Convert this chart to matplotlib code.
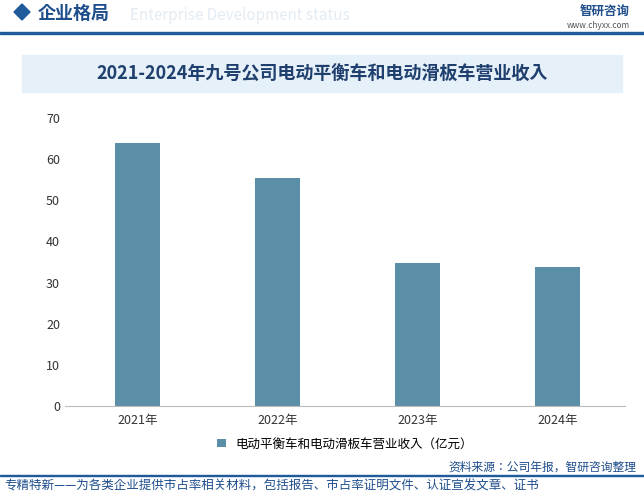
import matplotlib.pyplot as plt
from matplotlib.patches import Rectangle, Polygon

plt.rcParams["font.family"] = ["Noto Sans CJK SC", "Noto Sans CJK JP", "DejaVu Sans"]

years = ["2021年", "2022年", "2023年", "2024年"]
revenue = [64.0, 55.5, 34.8, 33.8]
yticks = [0, 10, 20, 30, 40, 50, 60, 70]

W, H = 644, 495
fig = plt.figure(figsize=(6.44, 4.95), dpi=100)

def fx(px):
    return px / W

def fy(py):
    return 1 - py / H

# header
fig.add_artist(Polygon([[fx(14), fy(12)], [fx(22), fy(4)], [fx(30), fy(12)], [fx(22), fy(20)]],
                       closed=True, color="#1f5a9a", transform=fig.transFigure))
fig.text(fx(38), fy(13), "企业格局", fontsize=13, fontweight="bold", color="#1f4e8c", va="center")
fig.text(fx(130), fy(15), "Enterprise Development status", fontsize=11, color="#e3ebf3", va="center")
fig.text(fx(630), fy(11), "智研咨询", fontsize=9, fontweight="bold", color="#1f4e8c", va="center", ha="right")
fig.text(fx(630), fy(26), "www.chyxx.com", fontsize=6, color="#555555", va="center", ha="right")
fig.add_artist(Rectangle((0, fy(34)), 1, 1.5 / H, color="#1f5a9a", transform=fig.transFigure))

# title band
fig.add_artist(Rectangle((fx(22), fy(92)), fx(600), 37 / H, color="#e6f0f9", transform=fig.transFigure))
fig.text(0.5, fy(74), "2021-2024年九号公司电动平衡车和电动滑板车营业收入", fontsize=13,
         fontweight="bold", color="#1f3f6e", ha="center", va="center")

ax = fig.add_axes([fx(65), fy(406), fx(560), (406 - 118) / H])
ax.bar(years, revenue, width=0.32, color="#5b8fa8", label="电动平衡车和电动滑板车营业收入（亿元）")
ax.set_ylim(0, 70)
ax.set_yticks(yticks)
ax.set_xlim(-0.52, 3.48)
for s in ["top", "right", "left"]:
    ax.spines[s].set_visible(False)
ax.spines["bottom"].set_color("#bbbbbb")
ax.tick_params(axis="y", length=0, labelsize=9, colors="#333333")
ax.tick_params(axis="x", length=0, labelsize=9, colors="#333333", pad=6)
ax.legend(loc="upper center", bbox_to_anchor=(0.5, -0.07), frameon=False, fontsize=9,
          handlelength=0.7, handleheight=0.7)

# footer
fig.add_artist(Rectangle((0, fy(476)), 1, 1.2 / H, color="#1f5a9a", transform=fig.transFigure))
fig.text(fx(636), fy(467), "资料来源：公司年报，智研咨询整理", fontsize=8.5, color="#1f4e8c", ha="right", va="center")
fig.text(fx(4), fy(486), "专精特新——为各类企业提供市占率相关材料，包括报告、市占率证明文件、认证宣发文章、证书",
         fontsize=9, color="#1f4e8c", ha="left", va="center")

fig.savefig("out.png", dpi=100)
